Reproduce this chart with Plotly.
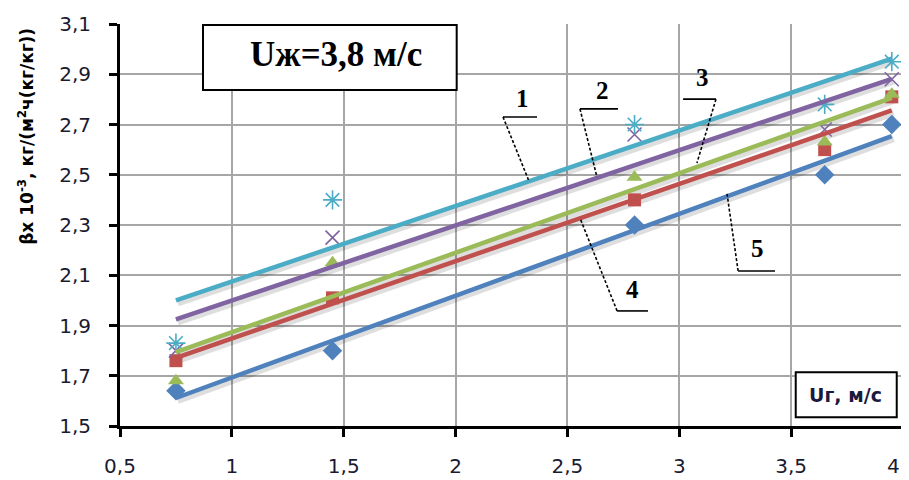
import numpy as np
import plotly.graph_objects as go

# ---- data ----
ug = [0.75, 1.45, 2.8, 3.65, 3.95]
s1 = [1.83, 2.40, 2.70, 2.78, 2.95]   # cyan, asterisk
s2 = [1.80, 2.25, 2.66, 2.68, 2.88]   # purple, x
s3 = [1.68, 2.15, 2.49, 2.63, 2.82]   # green, triangle
s4 = [1.76, 2.01, 2.40, 2.60, 2.81]   # red, square
s5 = [1.64, 1.80, 2.30, 2.50, 2.70]   # blue, diamond

x_ticks = [0.5, 1, 1.5, 2, 2.5, 3, 3.5, 4]
x_tick_text = ["0,5", "1", "1,5", "2", "2,5", "3", "3,5", "4"]
y_ticks = [1.5, 1.7, 1.9, 2.1, 2.3, 2.5, 2.7, 2.9, 3.1]
y_tick_text = ["1,5", "1,7", "1,9", "2,1", "2,3", "2,5", "2,7", "2,9", "3,1"]

# curve number labels and their leader lines (data coordinates)
lab_text = ["1", "2", "3", "4", "5"]
lab_x = [2.297, 2.655, 3.102, 2.789, 3.348]
lab_y = [2.805, 2.837, 2.889, 2.045, 2.205]
shelf_x0 = [2.212, 2.556, 3.017, 2.722, 3.263]
shelf_x1 = [2.364, 2.726, 3.164, 2.860, 3.428]
shelf_y = [2.730, 2.762, 2.801, 1.958, 2.117]
lead_x0 = [2.212, 2.556, 3.164, 2.722, 3.263]
lead_x1 = [2.328, 2.632, 3.079, 2.556, 3.213]
lead_y1 = [2.475, 2.491, 2.547, 2.328, 2.427]

series = [
    (s5, "#4F81BD", "diamond", 15, None),
    (s4, "#C0504D", "square", 13, None),
    (s3, "#9BBB59", "triangle-up", 14, None),
    (s2, "#8064A2", "x-thin-open", 14, 1.6),
    (s1, "#4BACC6", "asterisk-open", 16, 1.6),
]

# plot-area scale (px per data unit) used only for the soft drop shadow offset
PX_X = 783 / 3.5
PX_Y = 402 / 1.6
SH_DX, SH_DY = 2 / PX_X, -3 / PX_Y

fig = go.Figure()
xa = np.array(ug)
fits = []
for ys, col, sym, sz, lw in series:
    k, b = np.polyfit(xa, np.array(ys), 1)
    fits.append((k, b))

# shadows of trend lines
for (k, b) in fits:
    xl = np.array([xa.min(), xa.max()])
    fig.add_trace(go.Scatter(x=xl + SH_DX, y=k * xl + b + SH_DY, mode="lines",
                             line=dict(color="rgba(0,0,0,0.13)", width=6),
                             showlegend=False, cliponaxis=False, hoverinfo="skip"))

# markers
for ys, col, sym, sz, lw in series:
    mk = dict(symbol=sym, size=sz, color=col)
    if lw:
        mk["line"] = dict(color=col, width=lw)
    else:
        mk["line"] = dict(width=0)
    fig.add_trace(go.Scatter(x=ug, y=ys, mode="markers", marker=mk,
                             showlegend=False, cliponaxis=False, hoverinfo="skip"))

# linear trend lines
for (ys, col, sym, sz, lw), (k, b) in zip(series, fits):
    xl = np.array([xa.min(), xa.max()])
    fig.add_trace(go.Scatter(x=xl, y=k * xl + b, mode="lines",
                             line=dict(color=col, width=4.5),
                             showlegend=False, cliponaxis=False, hoverinfo="skip"))

shapes = []
annotations = []
for i in range(len(lab_text)):
    shapes.append(dict(type="line", xref="x", yref="y",
                       x0=shelf_x0[i], x1=shelf_x1[i], y0=shelf_y[i], y1=shelf_y[i],
                       line=dict(color="black", width=1.6)))
    shapes.append(dict(type="line", xref="x", yref="y",
                       x0=lead_x0[i], x1=lead_x1[i], y0=shelf_y[i], y1=lead_y1[i],
                       line=dict(color="black", width=1.6, dash="3px,2px")))
    annotations.append(dict(x=lab_x[i], y=lab_y[i], xref="x", yref="y",
                            xanchor="center", yanchor="middle",
                            text="<b>" + lab_text[i] + "</b>", showarrow=False,
                            font=dict(family="Liberation Serif", size=25, color="black")))

# boxes
shapes.append(dict(type="rect", xref="paper", yref="paper",
                   x0=0.106, x1=0.430, y0=0.836, y1=0.9975,
                   line=dict(color="black", width=2), fillcolor="white", layer="above"))
shapes.append(dict(type="rect", xref="paper", yref="paper",
                   x0=0.863, x1=0.992, y0=0.022, y1=0.134,
                   line=dict(color="black", width=2), fillcolor="white", layer="above"))

annotations.append(dict(x=0.276, y=0.923, xref="paper", yref="paper",
                        xanchor="center", yanchor="middle",
                        text="<b>Uж=3,8 м/с</b>", showarrow=False,
                        font=dict(family="Liberation Serif", size=35, color="black")))
annotations.append(dict(x=0.927, y=0.078, xref="paper", yref="paper",
                        xanchor="center", yanchor="middle",
                        text="<b>Uг, м/с</b>", showarrow=False,
                        font=dict(family="DejaVu Sans", size=19, color="#1a1a40")))
annotations.append(dict(x=-0.121, y=0.72, xref="paper", yref="paper",
                        xanchor="center", yanchor="middle",
                        text="<b>βx 10<sup>-3</sup>, кг/(м<sup>2</sup>ч(кг/кг))</b>",
                        textangle=-90, showarrow=False,
                        font=dict(family="DejaVu Sans", size=17, color="black")))

# last x tick label sits at the very right edge: draw it as an annotation kept inside
shown_x_text = x_tick_text[:-1] + [""]
annotations.append(dict(x=x_ticks[-1], y=0, xref="x", yref="paper",
                        xanchor="right", yanchor="middle", xshift=-1, yshift=-40,
                        text=x_tick_text[-1], showarrow=False,
                        font=dict(family="DejaVu Sans", size=20, color="#1a1a30")))

# page has an 8px body margin: compensate so the plot area lands where the reference has it
fig.update_layout(
    width=901, height=472,
    margin=dict(l=112, r=6, t=16, b=54),
    paper_bgcolor="white", plot_bgcolor="white",
    shapes=shapes, annotations=annotations,
    font=dict(family="DejaVu Sans", size=20, color="#1a1a30"),
)
fig.update_xaxes(range=[0.5, 4], tickvals=x_ticks, ticktext=shown_x_text,
                 showgrid=True, gridcolor="#A6A6A6", gridwidth=1.5,
                 showline=True, linecolor="black", linewidth=3,
                 ticks="outside", ticklen=8, tickwidth=3, tickcolor="black",
                 ticklabelstandoff=12, zeroline=False, automargin=False)
fig.update_yaxes(range=[1.5, 3.1], tickvals=y_ticks, ticktext=y_tick_text,
                 showgrid=True, gridcolor="#A6A6A6", gridwidth=1.5,
                 showline=True, linecolor="black", linewidth=3,
                 ticks="outside", ticklen=8, tickwidth=3, tickcolor="black",
                 ticklabelstandoff=14, zeroline=False, automargin=False)

fig.write_html("out.html")
